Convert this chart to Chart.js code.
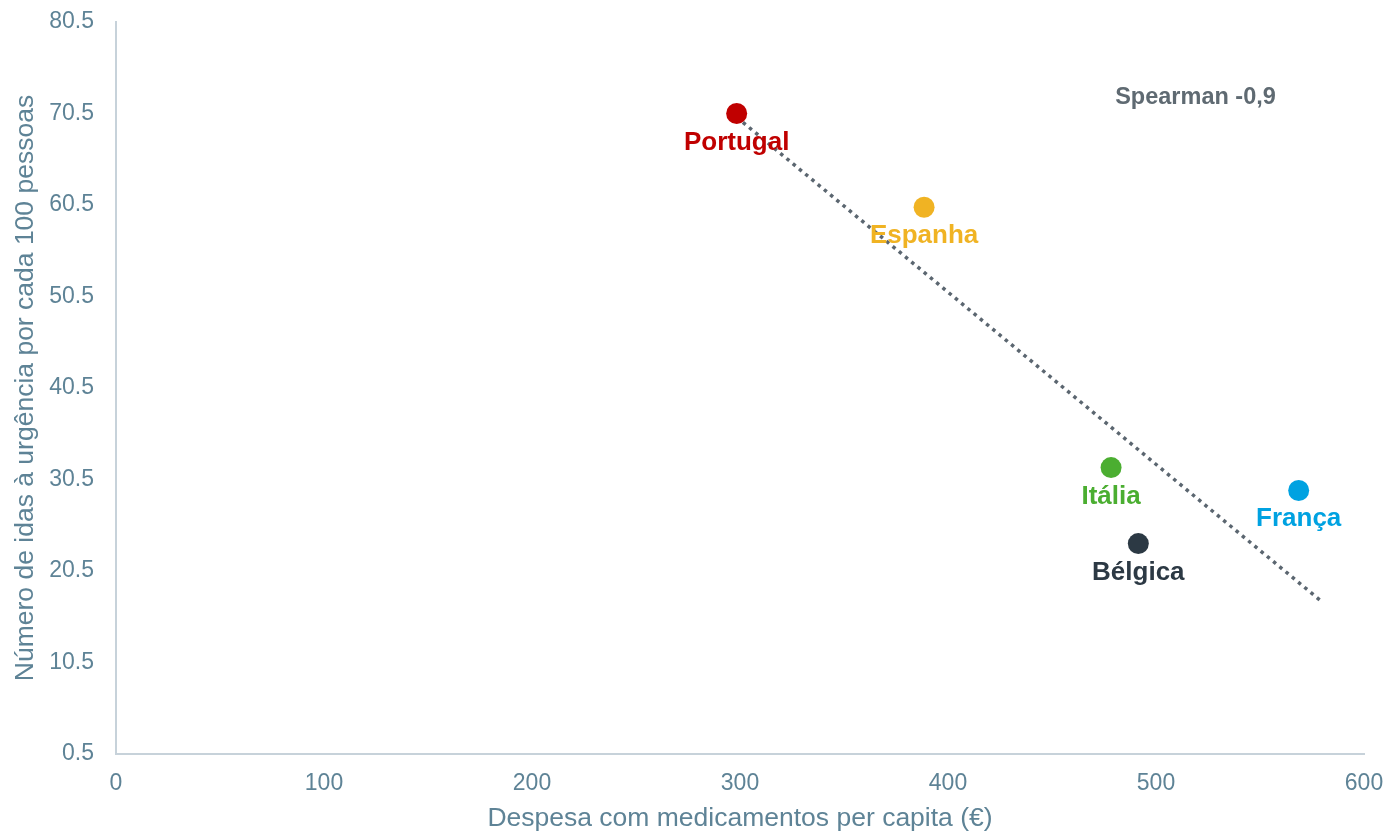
<!DOCTYPE html>
<html>
<head>
<meta charset="utf-8">
<script src="https://cdn.jsdelivr.net/npm/chart.js@4.4.1/dist/chart.umd.min.js"></script>
<style>
  html, body { margin: 0; padding: 0; background: #ffffff; }
  #wrap { width: 1388px; height: 832px; position: relative; }
</style>
</head>
<body>
<div id="wrap"><canvas id="c" width="1388" height="832"></canvas></div>
<script>
// ---- data ----
const countries = ['Portugal', 'Espanha', 'Itália', 'Bélgica', 'França'];
const spending = [298.4, 388.5, 478.4, 491.5, 568.6];      // Despesa com medicamentos per capita (€)
const erVisits = [70.5, 60.25, 31.8, 23.5, 29.3];          // idas à urgência por 100 pessoas
const countryColors = ['#C00000', '#F0B323', '#4BAE31', '#2C3944', '#00A2E1'];
const trendX = [298.4, 580];
const trendY = [70.1, 17.1];
const xTicks = [0, 100, 200, 300, 400, 500, 600];
const yTicks = [0.5, 10.5, 20.5, 30.5, 40.5, 50.5, 60.5, 70.5, 80.5];
const annotationText = 'Spearman -0,9';
const annotationX = 519;
const annotationY = 71.5;

const FONT = "'Liberation Sans', Arial, sans-serif";
const AXIS_COLOR = '#5E8396';

const pointsData = spending.map((x, i) => ({ x: x, y: erVisits[i] }));
const trendData = trendX.map((x, i) => ({ x: x, y: trendY[i] }));

const labelPlugin = {
  id: 'labels',
  afterDatasetsDraw(chart) {
    const ctx = chart.ctx;
    const xs = chart.scales.x, ys = chart.scales.y;
    ctx.save();
    ctx.textAlign = 'center';
    ctx.textBaseline = 'alphabetic';
    ctx.font = 'bold 26px ' + FONT;
    countries.forEach((name, i) => {
      const px = xs.getPixelForValue(spending[i]);
      const py = ys.getPixelForValue(erVisits[i]);
      ctx.fillStyle = countryColors[i];
      ctx.fillText(name, px, py + 36);
    });
    ctx.font = 'bold 23.5px ' + FONT;
    ctx.fillStyle = '#5F6A72';
    ctx.fillText(annotationText, xs.getPixelForValue(annotationX), ys.getPixelForValue(annotationY));
    ctx.restore();
  }
};

new Chart(document.getElementById('c'), {
  type: 'scatter',
  data: {
    datasets: [
      {
        label: 'Países',
        data: pointsData,
        backgroundColor: countryColors,
        borderColor: countryColors,
        pointRadius: 10.5,
        pointHoverRadius: 10.5,
        borderWidth: 0
      },
      {
        label: 'Tendência',
        data: trendData,
        showLine: true,
        borderColor: '#5B6670',
        borderWidth: 3.5,
        borderDash: [3.5, 4.6],
        borderCapStyle: 'butt',
        pointRadius: 0,
        fill: false
      }
    ]
  },
  options: {
    responsive: false,
    animation: false,
    devicePixelRatio: 1,
    layout: { padding: { top: 22, right: 24, left: 0, bottom: 0 } },
    plugins: {
      legend: { display: false },
      tooltip: { enabled: false }
    },
    scales: {
      x: {
        type: 'linear',
        min: 0,
        max: 600,
        afterBuildTicks: (s) => { s.ticks = xTicks.map(v => ({ value: v })); },
        afterFit: (s) => { s.height = 78; s.paddingLeft = 0; s.paddingRight = 0; },
        grid: { display: false, drawTicks: false },
        border: { display: true, color: '#C7D2DA', width: 2 },
        ticks: { color: AXIS_COLOR, font: { family: FONT, size: 23 }, padding: 16, maxRotation: 0 },
        title: {
          display: true,
          text: 'Despesa com medicamentos per capita (€)',
          color: AXIS_COLOR,
          font: { family: FONT, size: 26.5, lineHeight: 1 },
          padding: { top: 0, bottom: 0 }
        }
      },
      y: {
        type: 'linear',
        min: 0.5,
        max: 80.5,
        afterBuildTicks: (s) => { s.ticks = yTicks.map(v => ({ value: v })); },
        afterFit: (s) => { s.width = 116; s.paddingTop = 0; s.paddingBottom = 0; },
        grid: { display: false, drawTicks: false },
        border: { display: true, color: '#C7D2DA', width: 2 },
        ticks: { color: AXIS_COLOR, font: { family: FONT, size: 23 }, padding: 22,
                 callback: (v) => v.toFixed(1) },
        title: {
          display: true,
          text: 'Número de idas à urgência por cada 100 pessoas',
          color: AXIS_COLOR,
          font: { family: FONT, size: 26.5, lineHeight: 1.2 },
          padding: { top: 10, bottom: 0 }
        }
      }
    }
  },
  plugins: [labelPlugin]
});
</script>
</body>
</html>
